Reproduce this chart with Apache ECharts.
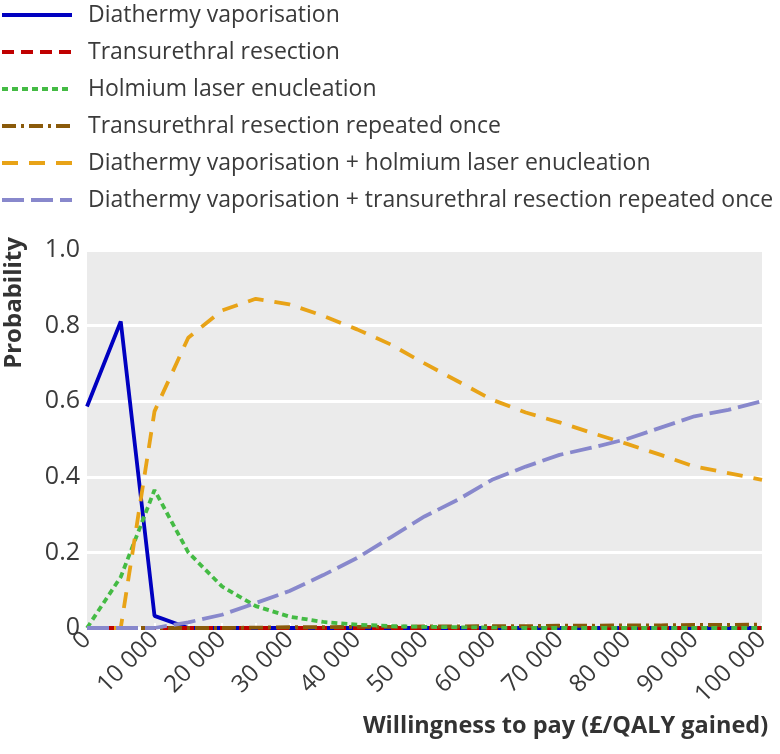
<!DOCTYPE html>
<html>
<head>
<meta charset="utf-8">
<script src="https://cdn.jsdelivr.net/npm/echarts@6/dist/echarts.min.js"></script>
<style>html,body{margin:0;padding:0;background:#fff}#c{width:780px;height:754px}</style>
</head>
<body>
<div id="c"></div>
<script>
var wtp = [0,5000,10000,15000,20000,25000,30000,35000,40000,45000,50000,55000,60000,65000,70000,75000,80000,85000,90000,95000,100000];
var diathermy = [0.586,0.811,0.032,0,0,0,0,0,0,0,0,0,0,0,0,0,0,0,0,0,0];
var turp = [0,0,0,0,0,0,0,0,0,0,0,0,0,0,0,0,0,0,0,0,0];
var holmium = [0,0.135,0.365,0.2,0.11,0.058,0.03,0.016,0.009,0.005,0.003,0.002,0.001,0,0,0,0,0,0,0,0];
var turpTwice = [0,0,0,0,0,0.001,0.002,0.002,0.003,0.003,0.004,0.004,0.005,0.005,0.006,0.006,0.007,0.007,0.008,0.008,0.009];
var diaHol = [0,0,0.573,0.768,0.84,0.871,0.856,0.826,0.79,0.75,0.7,0.652,0.604,0.57,0.544,0.515,0.487,0.458,0.427,0.41,0.392];
var diaTurp = [0,0,0,0.015,0.035,0.066,0.098,0.14,0.185,0.24,0.295,0.34,0.392,0.427,0.458,0.478,0.5,0.53,0.56,0.577,0.6];
var names = ['Diathermy vaporisation','Transurethral resection','Holmium laser enucleation','Transurethral resection repeated once','Diathermy vaporisation + holmium laser enucleation','Diathermy vaporisation + transurethral resection repeated once'];

function pairs(v){ return wtp.map(function(x,i){ return [x, v[i]]; }); }
var FONT = '"Open Sans", "Noto Sans", sans-serif';
var TXT = '#3a3a3a';
function mk(name, data, color, type, z){
  return {name:name, type:'line', data:pairs(data), symbol:'none', z:z, clip:false,
    lineStyle:{color:color, width:3.8, type:type}, itemStyle:{color:color}};
}
var chart = echarts.init(document.getElementById('c'));
chart.setOption({
  animation:false,
  textStyle:{fontFamily:FONT},
  legend:{
    orient:'vertical', left:0, top:3, padding:0, itemWidth:70, itemHeight:14, itemGap:13,
    itemStyle:{opacity:0},
    lineStyle:{width:4},
    textStyle:{fontFamily:FONT, fontSize:23, color:TXT, lineHeight:24, padding:[0,0,0,11]},
    data:names
  },
  grid:{left:87, right:18, top:250, bottom:126, show:true, backgroundColor:'#ebebeb', borderWidth:0, outerBoundsMode:'none', containLabel:false},
  xAxis:{
    type:'value', min:0, max:100000, interval:10000,
    name:'Willingness to pay (£/QALY gained)', nameLocation:'middle', nameGap:84,
    nameTextStyle:{fontFamily:FONT, fontSize:23.5, fontWeight:'bold', color:'#333', padding:[0,0,0,282]},
    axisLine:{show:false},
    axisTick:{show:true, inside:true, length:5, lineStyle:{color:'#fff', width:2}},
    minorTick:{show:true, splitNumber:2, length:5, lineStyle:{color:'#fff', width:2}},
    splitLine:{show:false},
    axisLabel:{rotate:45, fontSize:24, color:TXT, margin:8, fontFamily:FONT,
      formatter:function(v){ return v===0 ? '0' : String(v).replace(/\B(?=(\d{3})+(?!\d))/g,' '); }}
  },
  yAxis:{
    type:'value', min:0, max:1, interval:0.2,
    name:'Probability', nameLocation:'middle', nameGap:61, nameRotate:90,
    nameTextStyle:{fontFamily:FONT, fontSize:24, fontWeight:'bold', color:'#333', padding:[0,0,0,272]},
    axisLine:{show:false}, axisTick:{show:false},
    splitLine:{show:true, lineStyle:{color:'#fff', width:3}},
    axisLabel:{fontSize:25, color:TXT, margin:7, fontFamily:FONT,
      formatter:function(v){ return v===0 ? '0' : v.toFixed(1); }}
  },
  series:[
    mk(names[0], diathermy, '#0000c0', 'solid', 2),
    mk(names[1], turp, '#c00000', [12,7], 3),
    mk(names[2], holmium, '#44bb44', [6,4], 4),
    mk(names[3], turpTwice, '#8a5a0a', [14,5,3,5], 3),
    mk(names[4], diaHol, '#e8a317', [16,11], 5),
    mk(names[5], diaTurp, '#8888cc', [22,7], 6)
  ]
});
</script>
</body>
</html>
